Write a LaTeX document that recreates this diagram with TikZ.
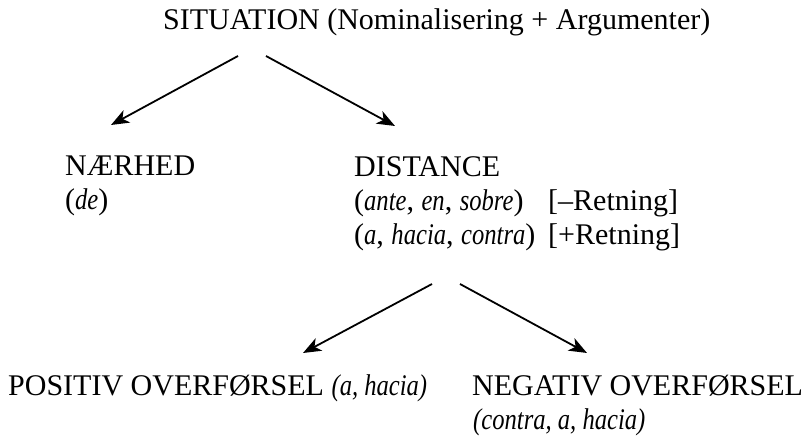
\documentclass[tikz,border=0pt]{standalone}
\usepackage{fontspec}
\setmainfont{Liberation Serif}[ItalicFeatures={FakeStretch=0.82}]
\usetikzlibrary{arrows.meta}
\begin{document}
\begin{tikzpicture}[x=1pt, y=-1pt, font=\fontsize{30}{34}\selectfont]
            \tikzstyle{text node}=[anchor=base west, inner sep=0pt]
            \tikzstyle{tree arrow}=[line width=1.8pt, -{Stealth[length=18pt, width=14pt, inset=5pt]}]
            \useasboundingbox (0,0) rectangle (811,439);

            % 顶层
            \node[text node] (sit) at (163,29) {SITUATION (Nominalisering + Argumenter)};

            % 第二层
            \node[text node] (naer) at (65,175) {NÆRHED};
            \node[text node] (de) at (65,209) {(\textit{de})};
            \node[text node] (dist) at (354,176) {DISTANCE};
            \node[text node] (ante) at (354,210) {(\textit{ante}, \textit{en}, \textit{sobre})};
            \node[text node] (minus) at (548,210) {[–Retning]};
            \node[text node] (ahac) at (354,244) {(\textit{a}, \textit{hacia}, \textit{contra})};
            \node[text node] (plus) at (548,244) {[+Retning]};

            % 第三层
            \node[text node] (pos) at (8,395) {POSITIV OVERFØRSEL \textit{(a, hacia)}};
            \node[text node] (neg) at (472,395) {NEGATIV OVERFØRSEL};
            \node[text node] (contra) at (473,429) {\textit{(contra, a, hacia)}};

            % 箭头
            \coordinate (sitL) at (238,56);
            \coordinate (sitR) at (266,56);
            \coordinate (naerTip) at (111,125);
            \coordinate (distTip) at (395,126);
            \coordinate (distL) at (432,284);
            \coordinate (distR) at (460,284);
            \coordinate (posTip) at (303,353);
            \coordinate (negTip) at (587,353);
            \draw[tree arrow] (sitL) -- (naerTip);
            \draw[tree arrow] (sitR) -- (distTip);
            \draw[tree arrow] (distL) -- (posTip);
            \draw[tree arrow] (distR) -- (negTip);
        \end{tikzpicture}
\end{document}
